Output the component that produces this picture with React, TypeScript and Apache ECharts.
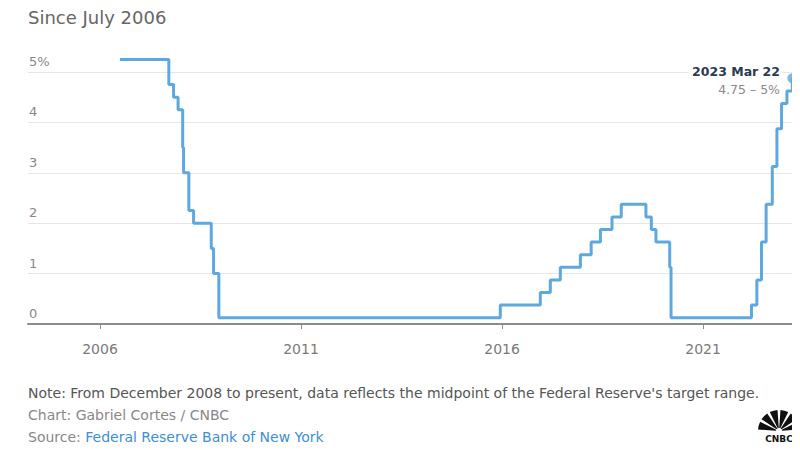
import React, { useEffect, useRef } from "react";
import * as echarts from "echarts";

const changeDates = [
  "2006-07-01", "2007-09-18", "2007-10-31", "2007-12-11", "2008-01-22", "2008-01-30",
  "2008-03-18", "2008-04-30", "2008-10-08", "2008-10-29", "2008-12-16", "2015-12-16",
  "2016-12-14", "2017-03-15", "2017-06-14", "2017-12-13", "2018-03-21", "2018-06-13",
  "2018-09-26", "2018-12-19", "2019-07-31", "2019-09-18", "2019-10-30", "2020-03-03",
  "2020-03-15", "2022-03-16", "2022-05-04", "2022-06-15", "2022-07-27", "2022-09-21",
  "2022-11-02", "2022-12-14", "2023-02-01", "2023-03-22",
];
const rates = [
  5.25, 4.75, 4.5, 4.25, 3.5, 3.0,
  2.25, 2.0, 1.5, 1.0, 0.125, 0.375,
  0.625, 0.875, 1.125, 1.375, 1.625, 1.875,
  2.125, 2.375, 2.125, 1.875, 1.625, 1.125,
  0.125, 0.375, 0.875, 1.625, 2.375, 3.125,
  3.875, 4.375, 4.625, 4.875,
];
const xTickYears = [2006, 2011, 2016, 2021];
const yTicks = [0, 1, 2, 3, 4, 5];

function toDecimalYear(s: string): number {
  const [y, m, d] = s.split("-").map(Number);
  const start = Date.UTC(y, 0, 1);
  const end = Date.UTC(y + 1, 0, 1);
  return y + (Date.UTC(y, m - 1, d) - start) / (end - start);
}

export default function App() {
  const ref = useRef<HTMLDivElement>(null);
  useEffect(() => {
    if (!ref.current) return;
    const chart = echarts.init(ref.current, undefined, { renderer: "svg" });
    const data = changeDates.map((d, i) => [toDecimalYear(d), rates[i]]);
    const last = data[data.length - 1];
    const font = "'DejaVu Sans', sans-serif";
    const feathers: any[] = [];
    for (let i = 0; i < 6; i++) {
      const a0 = Math.PI + (i * Math.PI) / 6 + 0.07;
      const a1 = Math.PI + ((i + 1) * Math.PI) / 6 - 0.07;
      feathers.push({
        type: "sector",
        shape: { cx: 779, cy: 431, r: 21, r0: 3, startAngle: a0, endAngle: a1 },
        style: { fill: "#111" },
      });
    }
    chart.setOption({
      animation: false,
      grid: { left: 28, right: 2, top: 72, bottom: 126 },
      xAxis: {
        type: "value",
        min: 2004.21,
        max: 2023.36,
        axisLine: { show: true, lineStyle: { color: "#8c8c8c", width: 2 } },
        axisTick: { show: true, customValues: xTickYears, length: 5, lineStyle: { color: "#8c8c8c" } },
        axisLabel: {
          customValues: xTickYears,
          formatter: (v: number) => String(Math.round(v)),
          color: "#7a7a7a",
          fontSize: 14,
          fontFamily: font,
          margin: 18,
        },
        splitLine: { show: false },
      },
      yAxis: {
        type: "value",
        min: yTicks[0],
        max: yTicks[yTicks.length - 1],
        interval: 1,
        axisLine: { show: false },
        axisTick: { show: false },
        axisLabel: {
          inside: true,
          verticalAlign: "bottom",
          margin: 0,
          padding: [0, 0, 4, 1],
          formatter: (v: number) => (v === 5 ? "5%" : String(v)),
          color: "#888",
          fontSize: 13,
          fontFamily: font,
        },
        splitLine: { show: true, lineStyle: { color: "#e6e6e6", width: 1 } },
      },
      series: [
        {
          type: "line",
          step: "end",
          data,
          clip: false,
          showSymbol: false,
          lineStyle: { color: "#5ea8e0", width: 3 },
          z: 3,
        },
        {
          type: "scatter",
          data: [last],
          symbolSize: 10,
          itemStyle: { color: "#5ea8e0" },
          clip: false,
          z: 4,
        },
      ],
      graphic: [
        {
          type: "text",
          x: 28,
          y: 17,
          style: { text: "Since July 2006", fill: "#666", font: `18px ${font}`, verticalAlign: "middle" },
        },
        {
          type: "text",
          x: 782,
          y: 71,
          z: 10,
          style: {
            text: "2023 Mar 22",
            fill: "#2b3a55",
            font: `bold 12.5px ${font}`,
            align: "right",
            verticalAlign: "middle",
            backgroundColor: "#fff",
            padding: [1, 2, 1, 3],
          },
        },
        {
          type: "text",
          x: 780,
          y: 89,
          style: {
            text: "4.75 – 5%",
            fill: "#8a8a8a",
            font: `12.5px ${font}`,
            align: "right",
            verticalAlign: "middle",
          },
        },
        {
          type: "text",
          x: 28,
          y: 393,
          style: {
            text: "Note: From December 2008 to present, data reflects the midpoint of the Federal Reserve's target range.",
            fill: "#555",
            font: `14px ${font}`,
            verticalAlign: "middle",
          },
        },
        {
          type: "text",
          x: 28,
          y: 415,
          style: { text: "Chart: Gabriel Cortes / CNBC", fill: "#888", font: `14px ${font}`, verticalAlign: "middle" },
        },
        {
          type: "text",
          x: 28,
          y: 437,
          style: {
            text: "{a|Source: }{b|Federal Reserve Bank of New York}",
            font: `14px ${font}`,
            verticalAlign: "middle",
            rich: {
              a: { fill: "#888", font: `14px ${font}` },
              b: { fill: "#3d8fd6", font: `14px ${font}` },
            },
          },
        },
        ...feathers,
        {
          type: "text",
          x: 779,
          y: 439,
          style: { text: "CNBC", fill: "#111", font: `bold 9px ${font}`, align: "center", verticalAlign: "middle" },
        },
      ],
    });
    return () => chart.dispose();
  }, []);
  return <div ref={ref} style={{ width: 800, height: 450, margin: -8 }} />;
}
